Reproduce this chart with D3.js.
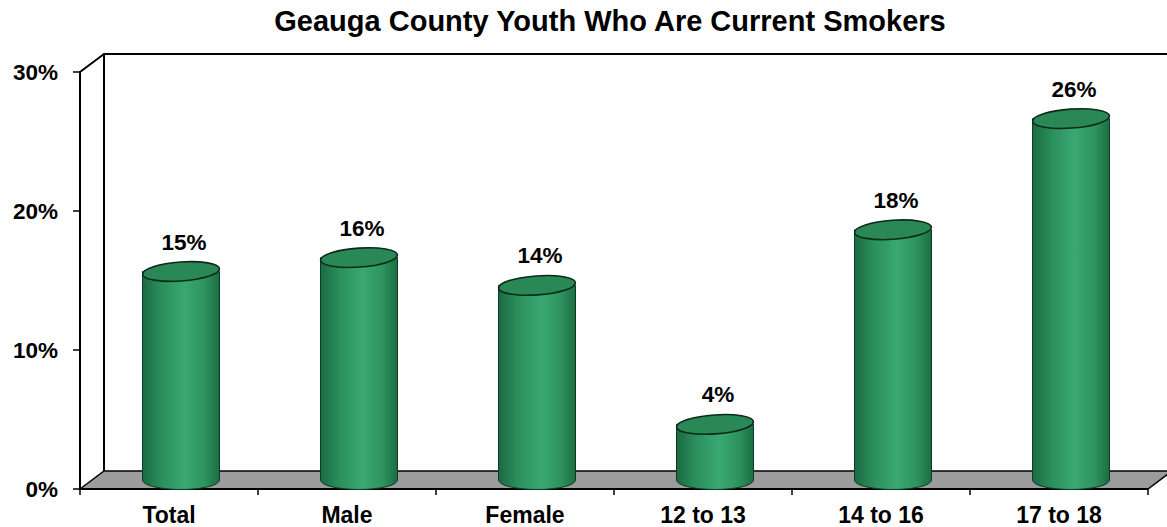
<!DOCTYPE html>
<html><head><meta charset="utf-8">
<script src="https://cdn.jsdelivr.net/npm/d3@7"></script>
<style>body{margin:0;background:#fff}svg{display:block;font-family:Arial,"Liberation Sans",sans-serif}</style>
</head><body><svg id="c" width="1167" height="527"></svg>
<script>
const categories = ["Total","Male","Female","12 to 13","14 to 16","17 to 18"];
const values = [15,16,14,4,18,26];
const yTicks = [0,10,20,30];
const title = "Geauga County Youth Who Are Current Smokers";

const svg = d3.select("#c");
const W = 1167, H = 527;
const x0 = 80, x1 = 1148, yTop = 72, yBot = 489;
const dx = 24, dy = -18;

const x = d3.scaleBand().domain(categories).range([x0, x1]).padding(0);
const y = d3.scaleLinear().domain([0,30]).range([yBot, yTop]);

const defs = svg.append("defs");
const g = defs.append("linearGradient").attr("id","body").attr("x1","0").attr("x2","1").attr("y1","0").attr("y2","0");
[[0,"#1a6a41"],[0.25,"#2b8f5c"],[0.55,"#3aa873"],[0.8,"#2e945f"],[1,"#1b6d43"]].forEach(([o,c])=>g.append("stop").attr("offset",o).attr("stop-color",c));

// back wall
svg.append("path").attr("d",`M${x0+dx},${yBot+dy}V${yTop+dy}H${W+2}`).attr("fill","none").attr("stroke","#000").attr("stroke-width",2);
// floor
svg.append("path").attr("d",`M${x0},${yBot}L${x0+dx},${yBot+dy}L${x1+dx},${yBot+dy}L${x1},${yBot}Z`).attr("fill","#9c9c9c").attr("stroke","#000").attr("stroke-width",1.5);
// left axis
svg.append("path").attr("d",`M${x0},${yBot}V${yTop}L${x0+dx},${yTop+dy}`).attr("fill","none").attr("stroke","#000").attr("stroke-width",2);
// floor front edge
svg.append("line").attr("x1",x0).attr("x2",x1).attr("y1",yBot).attr("y2",yBot).attr("stroke","#000").attr("stroke-width",2);

// y ticks
yTicks.forEach(t=>{
  svg.append("line").attr("x1",x0-7).attr("x2",x0).attr("y1",y(t)).attr("y2",y(t)).attr("stroke","#000").attr("stroke-width",1.5);
  svg.append("text").attr("x",58).attr("y",y(t)+8).attr("text-anchor","end")
    .attr("font-size",22.5).attr("font-weight","bold").text(t+"%");
});
// x ticks
d3.range(categories.length+1).forEach(i=>{
  const xx = x0 + i*x.bandwidth();
  svg.append("line").attr("x1",xx).attr("x2",xx).attr("y1",yBot).attr("y2",yBot+6).attr("stroke","#000").attr("stroke-width",1.5);
});
categories.forEach(c=>{
  svg.append("text").attr("x",x(c)+x.bandwidth()/2).attr("y",523).attr("text-anchor","middle")
    .attr("font-size",23).attr("font-weight","bold").text(c);
});

// cylinders
const rx = 38.5, ry = 9.5;
categories.forEach((c,i)=>{
  const v = values[i];
  const cx = x(c)+x.bandwidth()/2 + dx/2;
  const top = y(v) + dy/2, bot = y(0) + dy/2;
  svg.append("path").attr("d",`M${cx-rx},${top}L${cx-rx},${bot}A${rx},${ry} 0 0 0 ${cx+rx},${bot}L${cx+rx},${top}Z`)
    .attr("fill","url(#body)").attr("stroke","#0d3a22").attr("stroke-width",1);
  svg.append("ellipse").attr("cx",cx).attr("cy",top).attr("rx",rx).attr("ry",ry)
    .attr("transform",`rotate(-4,${cx},${top})`)
    .attr("fill","#2a8756").attr("stroke","#0b2a19").attr("stroke-width",1.6);
  svg.append("text").attr("x",cx+3).attr("y",top-22).attr("text-anchor","middle")
    .attr("font-size",22.5).attr("font-weight","bold").text(v+"%");
});

svg.append("text").attr("x",610).attr("y",31).attr("text-anchor","middle").attr("font-size",29).attr("font-weight","bold").text(title);
</script></body></html>
